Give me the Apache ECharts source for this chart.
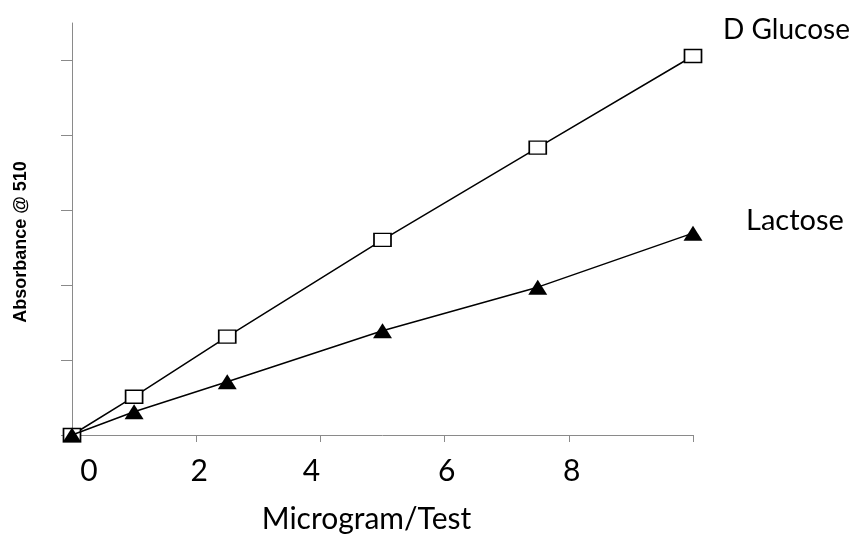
<!DOCTYPE html>
<html>
<head>
<meta charset="utf-8">
<script src="https://cdn.jsdelivr.net/npm/echarts@6/dist/echarts.min.js"></script>
<style>
  html, body { margin: 0; padding: 0; background: #fff; }
  #chart { width: 853px; height: 534px; }
</style>
</head>
<body>
<div id="chart"></div>
<script>
// ---- data ----
const microgramPerTest = [0, 1, 2.5, 5, 7.5, 10];
const glucoseAbsorbance = [0, 0.051, 0.131, 0.26, 0.383, 0.505];
const lactoseAbsorbance = [0, 0.031, 0.071, 0.139, 0.197, 0.269];
const seriesNames = ['D Glucose', 'Lactose'];
const xTickLabels = [0, 2, 4, 6, 8];
const xTickMarks = [0, 2, 4, 6, 8, 10];
const yTickMarks = [0, 0.1, 0.2, 0.3, 0.4, 0.5];
const xAxisTitle = 'Microgram/Test';
const yAxisTitle = 'Absorbance @ 510';

// ---- styling ----
const FONT = 'Lato, "Open Sans", sans-serif';
const axisGray = '#8a8a8a';
const labelShift = { 0: 17, 2: 3, 4: -9, 6: 2, 8: 3 };
const rich = {};
xTickLabels.forEach(v => {
  const s = labelShift[v] || 0;
  rich['t' + v] = {
    fontFamily: FONT, fontSize: 30, color: '#000',
    padding: s >= 0 ? [0, 0, 0, 2 * s] : [0, -2 * s, 0, 0]
  };
});

const pairs = arr => microgramPerTest.map((x, i) => [x, arr[i]]);

const chart = echarts.init(document.getElementById('chart'), null, { renderer: 'canvas' });
chart.setOption({
  animation: false,
  backgroundColor: '#fff',
  grid: { left: 72, right: 160, top: 23, bottom: 99, containLabel: false, outerBoundsMode: 'none' },
  xAxis: {
    type: 'value', min: 0, max: 10, interval: 2,
    name: xAxisTitle, nameLocation: 'middle', nameGap: 69,
    nameTextStyle: { fontFamily: FONT, fontSize: 30, color: '#000', padding: [0, 32, 0, 0] },
    axisLine: { show: true, lineStyle: { color: axisGray, width: 1 } },
    axisTick: { show: true, inside: false, length: 7, customValues: xTickMarks, lineStyle: { color: axisGray } },
    axisLabel: {
      show: true, margin: 21, customValues: xTickLabels,
      formatter: v => '{t' + v + '|' + v + '}', rich: rich
    },
    splitLine: { show: false }
  },
  yAxis: {
    type: 'value', min: 0, max: 0.549,
    name: yAxisTitle, nameLocation: 'middle', nameGap: 42, nameRotate: 90,
    nameTextStyle: { fontFamily: '"Liberation Sans", Arial, sans-serif', fontWeight: 'bold', fontSize: 18, color: '#000', padding: [0, 26, 0, 0] },
    axisLine: { show: true, lineStyle: { color: axisGray, width: 1 } },
    axisTick: { show: true, inside: false, length: 11, customValues: yTickMarks, lineStyle: { color: axisGray } },
    axisLabel: { show: false },
    splitLine: { show: false }
  },
  series: [
    {
      name: seriesNames[0], type: 'line', data: pairs(glucoseAbsorbance),
      symbol: 'rect', symbolSize: [17, 13], showAllSymbol: true,
      lineStyle: { color: '#000', width: 1.5 },
      itemStyle: { color: '#fff', borderColor: '#000', borderWidth: 1.5 },
      endLabel: {
        show: true, formatter: '{a}', distance: 0, offset: [30, -26],
        fontFamily: FONT, fontSize: 28, color: '#000', align: 'left', verticalAlign: 'middle'
      },
      z: 2
    },
    {
      name: seriesNames[1], type: 'line', data: pairs(lactoseAbsorbance),
      symbol: 'triangle', symbolSize: [19, 15], showAllSymbol: true,
      lineStyle: { color: '#000', width: 1.5 },
      itemStyle: { color: '#000', borderColor: '#000', borderWidth: 0 },
      endLabel: {
        show: true, formatter: '{a}', distance: 0, offset: [53, -12],
        fontFamily: FONT, fontSize: 29, color: '#000', align: 'left', verticalAlign: 'middle'
      },
      z: 3
    }
  ]
});
</script>
</body>
</html>
